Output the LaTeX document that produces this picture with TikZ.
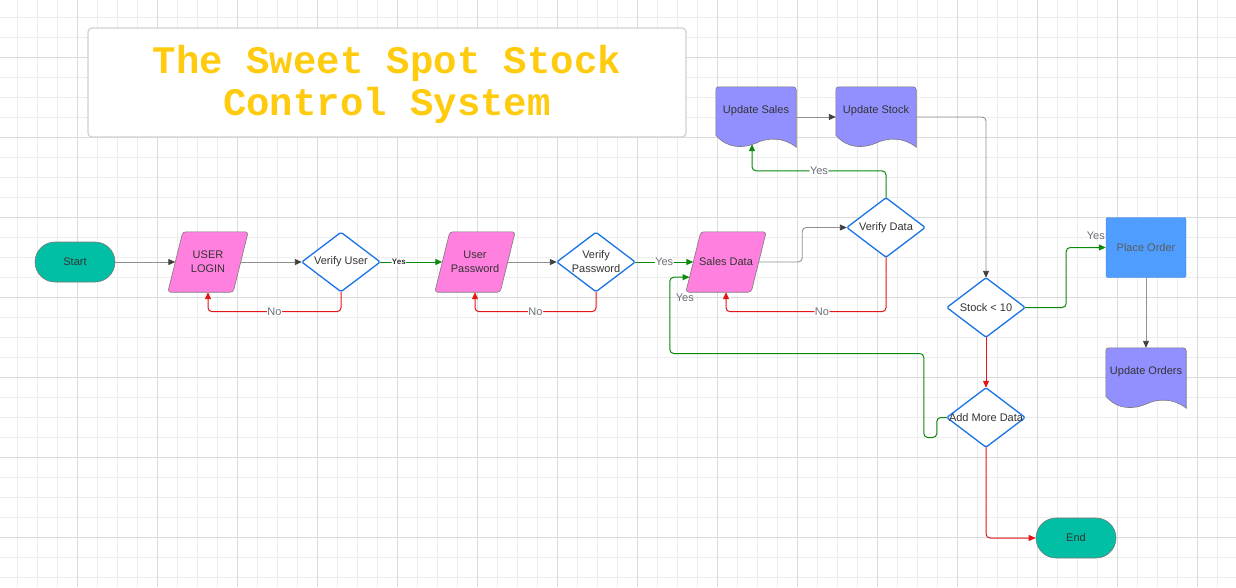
\documentclass[tikz,border=0pt]{standalone}
\usepackage{fontspec}
\setmainfont{Liberation Sans}
\newfontfamily\titlefont{Liberation Mono}
\usetikzlibrary{arrows.meta,calc}
\definecolor{tealc}{HTML}{00BFA5}
\definecolor{pinkc}{HTML}{FF80DF}
\definecolor{docc}{HTML}{9290FF}
\definecolor{poc}{HTML}{4E9DFF}
\definecolor{diac}{HTML}{1A73E8}
\definecolor{greenc}{HTML}{0A8A0A}
\definecolor{redc}{HTML}{E51515}
\definecolor{grayl}{HTML}{909090}
\definecolor{tipc}{HTML}{404040}
\definecolor{borderc}{HTML}{7A7A7A}
\definecolor{textc}{HTML}{333333}
\definecolor{lblc}{HTML}{6E6E78}
\definecolor{goldc}{HTML}{FFCB0F}
\definecolor{minorc}{HTML}{EDEDED}
\definecolor{majorc}{HTML}{DADADA}
\pgfdeclarelayer{gridlayer}
\pgfdeclarelayer{bglayer}
\pgfsetlayers{gridlayer,bglayer,main}
\newcommand\parapath[1]{\path[parashape] (#1.south west) -- ($(#1.south east)+(-15,0)$) -- (#1.north east) -- ($(#1.north west)+(15,0)$) -- cycle;}
\newcommand\docpath[1]{\path[docshape] ($(#1.south west)+(0,-12)$) [rounded corners=3pt] -- (#1.north west) -- (#1.north east) [sharp corners] -- (#1.south east) .. controls ($(#1.south west)+(68,-10)$) and ($(#1.south west)+(52,-10)$) .. ($(#1.south west)+(40,-4)$) .. controls ($(#1.south west)+(28,1)$) and ($(#1.south west)+(12,2)$) .. ($(#1.south west)+(0,-12)$) -- cycle;}
\newcommand\diapath[1]{\path[diashape] (#1.north) -- (#1.east) -- (#1.south) -- (#1.west) -- cycle;}
\begin{document}
\begin{tikzpicture}[x=1pt,y=-1pt,
  nodefont/.style={font=\fontsize{11}{14}\selectfont, text=textc, align=center},
  term/.style={nodefont, rectangle, rounded corners=20pt, minimum width=80pt, minimum height=40pt, fill=tealc, draw=borderc, line width=0.6pt},
  parabox/.style={nodefont, rectangle, minimum width=80pt, minimum height=60pt, inner sep=0pt},
  diabox/.style={nodefont, rectangle, minimum width=78pt, minimum height=59pt, inner sep=0pt},
  docbox/.style={nodefont, rectangle, minimum width=80pt, minimum height=60pt, inner sep=0pt},
  parashape/.style={fill=pinkc, draw=borderc, line width=0.6pt, rounded corners=3pt},
  docshape/.style={fill=docc, draw=borderc, line width=0.6pt},
  diashape/.style={fill=white, draw=diac, line width=1.3pt, rounded corners=1.5pt},
  gline/.style={draw=grayl, line width=0.9pt, rounded corners=4pt, -{Triangle[length=7pt,width=6pt,color=tipc]}},
  yline/.style={draw=greenc, line width=1pt, rounded corners=4pt, -{Triangle[length=7pt,width=6pt]}},
  nline/.style={draw=redc, line width=1pt, rounded corners=4pt, -{Triangle[length=7pt,width=6pt]}},
  lbl/.style={fill=white, inner sep=0.5pt, text=lblc, font=\fontsize{11}{13}\selectfont},
  lblnb/.style={inner sep=0.5pt, text=lblc, font=\fontsize{11}{13}\selectfont},
  minorgrid/.style={draw=minorc, line width=0.8pt},
  majorgrid/.style={draw=majorc, line width=0.8pt}]
\useasboundingbox (0,0) rectangle (1236,587);
\begin{pgfonlayer}{gridlayer}
\fill[white] (0,0) rectangle (1236,587);
\foreach \i in {0,...,61} \draw[minorgrid] (17+20*\i,0) -- ++(0,587);
\foreach \j in {0,...,28} \draw[minorgrid] (0,17+20*\j) -- ++(1236,0);
\foreach \i in {0,...,14} \draw[majorgrid] (77+80*\i,0) -- ++(0,587);
\foreach \j in {0,...,6} \draw[majorgrid] (0,57+80*\j) -- ++(1236,0);
\end{pgfonlayer}

% title
\node[rectangle, rounded corners=4pt, draw=majorc!90!gray, line width=1.2pt, fill=white, minimum width=598pt, minimum height=109pt] (titlebox) at (387,82.5) {};
\node[text=goldc, align=center, font=\titlefont\bfseries\fontsize{39}{41.5}\selectfont] (title) at (387,84.5) {The Sweet Spot Stock\\Control System};

% nodes
\node[term] (start) at (75,262) {Start};
\node[parabox] (ul) at (208,262) {USER\\LOGIN};
\node[diabox] (vu) at (341,262) {Verify User};
\node[parabox] (up) at (475,262) {User\\Password};
\node[diabox] (vp) at (596,262) {Verify\\Password};
\node[parabox] (sd) at (726,262) {Sales Data};
\node[diabox] (vd) at (886,227.5) {Verify Data};
\node[docbox] (us) at (756,117) {\raisebox{6pt}[\height][\depth]{Update Sales}};
\node[docbox] (ust) at (876,117) {\raisebox{6pt}[\height][\depth]{Update Stock}};
\node[diabox] (sk) at (986,307.5) {Stock < 10};
\node[diabox] (am) at (986,417.5) {Add More Data};
\node[nodefont, rectangle, rounded corners=2pt, fill=poc, draw=poc!85!black, line width=0.4pt, minimum width=80pt, minimum height=60pt, text=textc!80!white] (po) at (1146,247.5) {Place Order};
\node[docbox] (uo) at (1146,378) {\raisebox{6pt}[\height][\depth]{Update Orders}};
\node[term] (en) at (1076,538) {End};

\begin{pgfonlayer}{bglayer}
\parapath{ul}
\parapath{up}
\parapath{sd}
\diapath{vu}
\diapath{vp}
\diapath{vd}
\diapath{sk}
\diapath{am}
\docpath{us}
\docpath{ust}
\docpath{uo}
\end{pgfonlayer}

% connectors
\draw[gline] (start.east) -- ([xshift=7.5pt]ul.west);
\draw[gline] ([xshift=-7.5pt]ul.east) -- (vu.west);
\draw[yline] (vu.east) -- node[pos=0.3, fill=white, inner sep=0.5pt, text=textc, font=\bfseries\fontsize{8}{8}\selectfont] {Yes} ([xshift=7.5pt]up.west);
\draw[nline] (vu.south) -- ++(0,20) -| node[lbl, pos=0.25] {No} (ul.south);
\draw[gline] ([xshift=-7.5pt]up.east) -- (vp.west);
\draw[nline] (vp.south) -- ++(0,20) -| node[lbl, pos=0.25] {No} (up.south);
\draw[yline] (vp.east) -- node[lbl, pos=0.5] {Yes} ([xshift=7.5pt]sd.west);
\draw[gline] ([xshift=-7.5pt]sd.east) -- ++(43.5,0) |- (vd.west);
\draw[nline] (vd.south) -- ++(0,54.5) -| node[lbl, pos=0.2] {No} (sd.south);
\draw[yline] (vd.north) -- ++(0,-27) -| node[lbl, pos=0.25] {Yes} ($(us.south)+(-4,-3)$);
\draw[gline] (us.east) -- (ust.west);
\draw[gline] (ust.east) -| (sk.north);
\draw[yline] (sk.east) -- ++(41,0) |- (po.west);
\node[lblnb] (yespo) at ($(po.west)+(-10,-12)$) {Yes};
\draw[nline] (sk.south) -- (am.north);
\draw[gline] (po.south) -- (uo.north);
\draw[yline] (am.west) -- ++(-10,0) -- ++(0,20) -- ++(-13,0) -- ++(0,-84) -- ++(-254,0) |- ($(sd.south west)+(3.75,-15)$);
\node[lblnb] (yessd) at ($(sd.south west)+(-1,6)$) {Yes};
\draw[nline] (am.south) |- (en.west);
\end{tikzpicture}
\end{document}
